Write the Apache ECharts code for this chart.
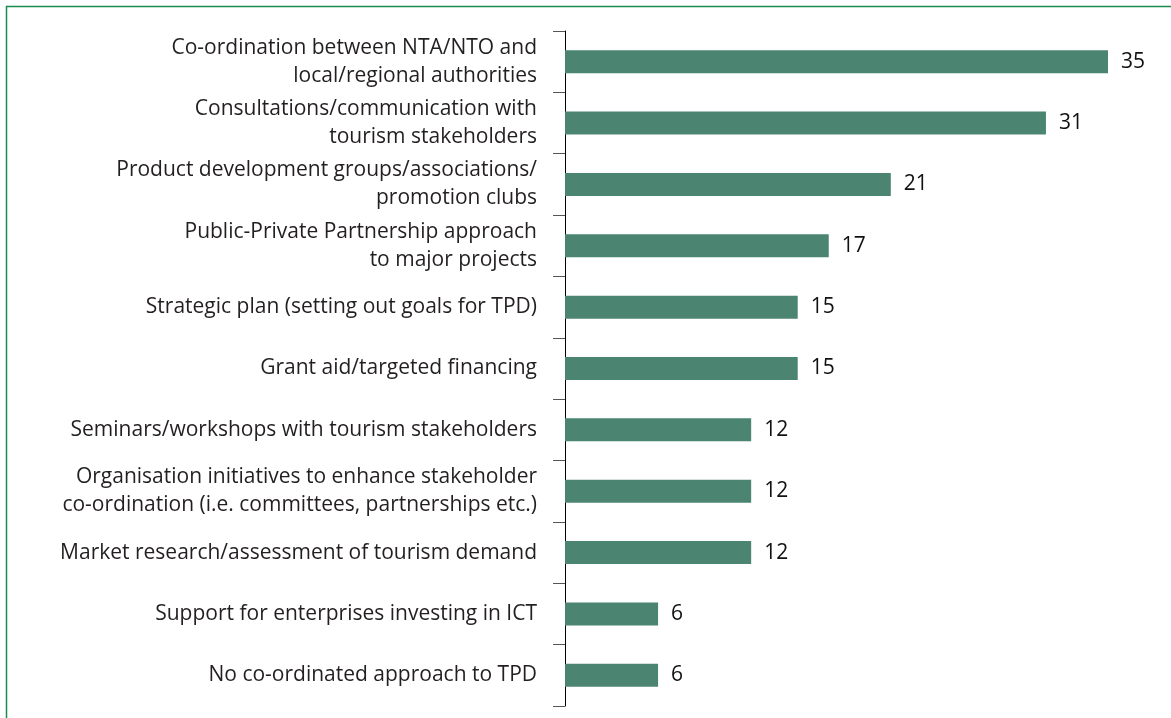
<!DOCTYPE html>
<html>
<head>
<meta charset="utf-8">
<script src="https://cdn.jsdelivr.net/npm/echarts@6/dist/echarts.min.js"></script>
<style>
  html, body { margin: 0; padding: 0; background: #fff; }
  #chart { width: 1171px; height: 718px; }
</style>
</head>
<body>
<div id="chart"></div>
<script>
// categories, top to bottom as in the picture
const categories = [
  'Co-ordination between NTA/NTO and\nlocal/regional authorities',
  'Consultations/communication with\ntourism stakeholders',
  'Product development groups/associations/\npromotion clubs',
  'Public-Private Partnership approach\nto major projects',
  'Strategic plan (setting out goals for TPD)',
  'Grant aid/targeted financing',
  'Seminars/workshops with tourism stakeholders',
  'Organisation initiatives to enhance stakeholder\nco-ordination (i.e. committees, partnerships etc.)',
  'Market research/assessment of tourism demand',
  'Support for enterprises investing in ICT',
  'No co-ordinated approach to TPD'
]
const values = [35, 31, 21, 17, 15, 15, 12, 12, 12, 6, 6]

const chart = echarts.init(document.getElementById('chart'))

const option = {
  animation: false,
  textStyle: { fontFamily: 'Open Sans' },
  graphic: [
    {
      type: 'rect',
      shape: { x: 6.5, y: 6.5, width: 1200, height: 800 },
      style: { fill: 'none', stroke: '#1b8a50', lineWidth: 1.5 },
      silent: true
    }
  ],
  grid: { left: 565, right: 63, top: 31, bottom: 12 },
  xAxis: {
    type: 'value',
    min: 0,
    max: 35,
    show: false
  },
  yAxis: {
    type: 'category',
    inverse: true,
    data: categories,
    axisLine: { show: true, lineStyle: { color: '#000', width: 1 } },
    axisTick: { show: true, length: 12, lineStyle: { color: '#555' } },
    axisLabel: {
      color: '#231f20',
      fontSize: 21,
      lineHeight: 28,
      margin: 28,
      align: 'right'
    }
  },
  series: [
    {
      type: 'bar',
      data: values,
      barWidth: 23,
      itemStyle: { color: '#4b8571' },
      label: {
        show: true,
        position: 'right',
        distance: 13,
        color: '#111',
        fontSize: 21
      }
    }
  ]
}

chart.setOption(option)
</script>
</body>
</html>
